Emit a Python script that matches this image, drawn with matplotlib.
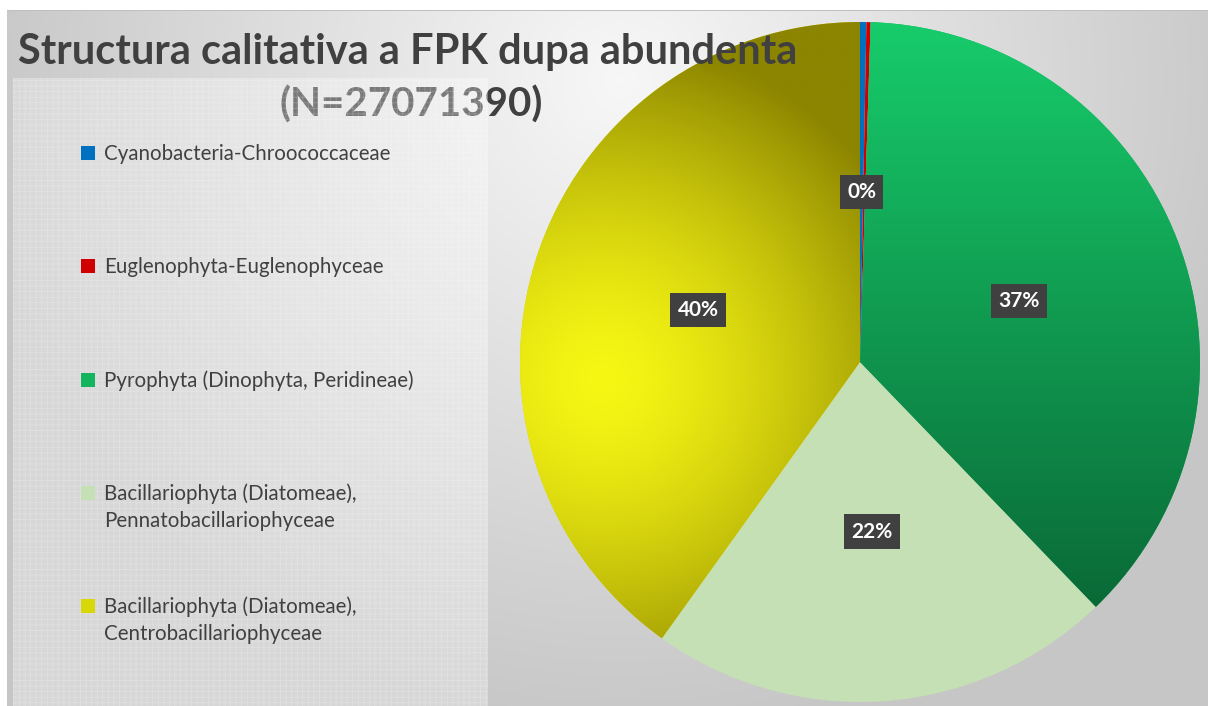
import numpy as np
import matplotlib
matplotlib.use("Agg")
import matplotlib.pyplot as plt
from matplotlib.patches import Rectangle

# grupele taxonomice si ponderea (%) in abundenta totala
grupe = [
    "Cyanobacteria-Chroococcaceae",
    "Euglenophyta-Euglenophyceae",
    "Pyrophyta (Dinophyta, Peridineae)",
    "Bacillariophyta (Diatomeae),\nPennatobacillariophyceae",
    "Bacillariophyta (Diatomeae),\nCentrobacillariophyceae",
]
procente = [0.3, 0.2, 37.3, 22.1, 40.1]
culori = ["#0070C0", "#D00000", "#14B45F", "#C5E0B4", "#D8D808"]
titlu = "Structura calitativa a FPK dupa abundenta"
subtitlu = "(N=27071390)"

plt.rcParams['font.family'] = ['Lato', 'DejaVu Sans']
plt.rcParams['hatch.linewidth'] = 0.6
GRI = "#404040"

W, H = 1208, 706
fig = plt.figure(figsize=(W / 100, H / 100), dpi=100)

# fundal gri cu gradient, in coordonate pixel
bg = fig.add_axes([0, 0, 1, 1])
yy, xx = np.mgrid[0:H, 0:W]
d = np.hypot(xx - 620, yy - 80)
L = 0.97 - 0.19 * np.clip(d / 650, 0, 1)
img = np.dstack([L, L, L])
img[:10, :] = 1
img[:, :7] = 1
img[10, 7:] = 0.75
bg.imshow(img, extent=(0, W, H, 0), aspect='auto', interpolation='bilinear', zorder=0)
bg.set_xlim(0, W)
bg.set_ylim(H, 0)
bg.axis('off')

# diagrama circulara
ax = fig.add_axes([520 / W, 4 / H, 680 / W, 680 / H])
ax.patch.set_alpha(0)
wedges, texts, autotexts = ax.pie(procente, colors=culori, startangle=90,
                                  counterclock=False, autopct='%1.0f%%',
                                  pctdistance=0.5, radius=1,
                                  wedgeprops=dict(linewidth=0))

n = 500
gy, gx = np.mgrid[1:-1:n * 1j, -1:1:n * 1j]

# verde: gradient vertical
t = np.clip((1 - gy) / 1.71, 0, 1)[..., None]
sus = np.array([0x17, 0xCC, 0x6B]) / 255
jos = np.array([0x0A, 0x6A, 0x37]) / 255
verde = sus * (1 - t) + jos * t
im = ax.imshow(verde, extent=(-1, 1, -1, 1), zorder=1.5, interpolation='bilinear')
im.set_clip_path(wedges[2])

# galben: gradient radial
r = np.clip(np.hypot(gx + 0.76, gy + 0.05) / 1.0, 0, 1)[..., None]
centru = np.array([0xF7, 0xF7, 0x14]) / 255
margine = np.array([0x8C, 0x85, 0x00]) / 255
galben = centru * (1 - r ** 1.5) + margine * r ** 1.5
im = ax.imshow(galben, extent=(-1, 1, -1, 1), zorder=1.5, interpolation='bilinear')
im.set_clip_path(wedges[4])

# cele doua felii mici au aceeasi eticheta "0%", ramane una singura
autotexts[1].remove()
for t in autotexts[:1] + autotexts[2:]:
    t.set(color='white', fontweight='bold', fontsize=15, zorder=5)
    t.set_bbox(dict(boxstyle='square,pad=0.35', fc=GRI, ec='none'))

ax.set_xlim(-1, 1)
ax.set_ylim(-1, 1)
ax.set_aspect('equal')
ax.axis('off')

# strat superior: titlu si legenda
top = fig.add_axes([0, 0, 1, 1])
top.patch.set_alpha(0)
top.set_xlim(0, W)
top.set_ylim(H, 0)
top.axis('off')

top.text(408, 52, titlu, ha='center', va='center', fontsize=30,
         fontweight='bold', color=GRI, zorder=2)
top.text(411, 105, subtitlu, ha='center', va='center', fontsize=29,
         fontweight='bold', color=GRI, zorder=2)

# zona legendei (acopera partial subtitlul)
top.add_patch(Rectangle((13, 78), 475, H - 78, fc=(1, 1, 1, 0.3), ec='none', zorder=3))
top.add_patch(Rectangle((13, 78), 475, H - 78, fill=False, hatch='+++',
                        ec=(1, 1, 1, 0.22), lw=0, zorder=3))

for i, (g, c) in enumerate(zip(grupe, culori)):
    y = 154 + i * 113.3
    top.add_patch(Rectangle((81, y - 8), 14, 14, fc=c, ec='none', zorder=4))
    for k, rand in enumerate(g.split("\n")):
        top.text(104, y + k * 27, rand, ha='left', va='center', fontsize=14.8,
                 color=GRI, zorder=4)

fig.savefig("out.png", dpi=100)
